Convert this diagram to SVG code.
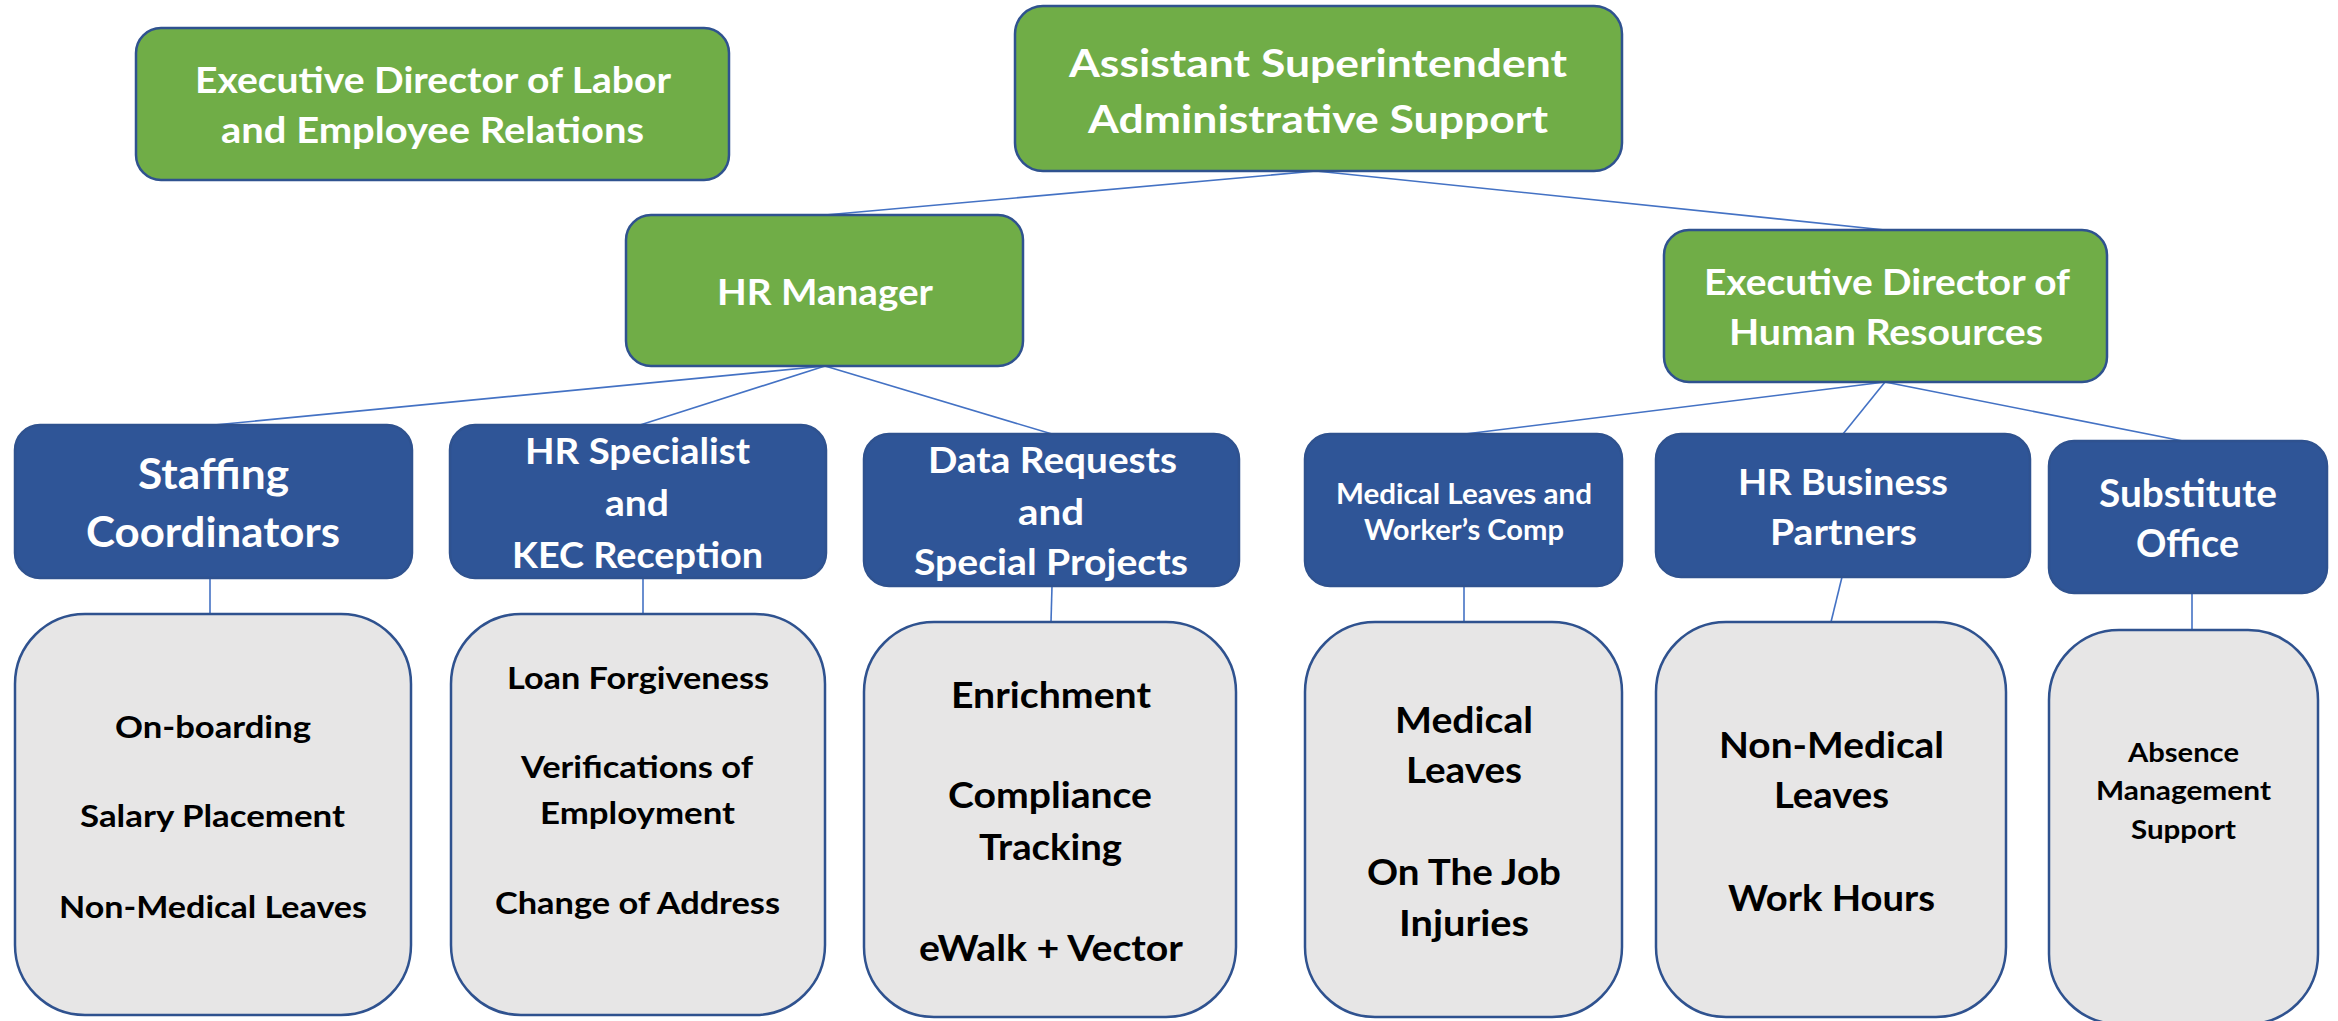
<svg xmlns="http://www.w3.org/2000/svg" width="2338" height="1021" viewBox="0 0 2338 1021">
<style>
.bg{fill:#ffffff}
.g{fill:#70AD47;stroke:#2F528F;stroke-width:2.5}
.b{fill:#2F5597;stroke:#2F528F;stroke-width:2.5}
.gr{fill:#E7E6E6;stroke:#2F528F;stroke-width:2.5}
.c{stroke:#4472C4;stroke-width:1.6;fill:none}
text{font-family:Lato,"Liberation Sans",sans-serif;font-weight:bold;text-anchor:middle}
.w{fill:#ffffff}
.k{fill:#000000}
</style>
<rect class="bg" x="0" y="0" width="2338" height="1021"/>
<g id="connectors">
<line class="c" x1="1316" y1="171" x2="825" y2="215"/>
<line class="c" x1="1316" y1="171" x2="1885" y2="230"/>
<line class="c" x1="825" y1="366" x2="214" y2="425"/>
<line class="c" x1="825" y1="366" x2="640" y2="425"/>
<line class="c" x1="825" y1="366" x2="1052" y2="434"/>
<line class="c" x1="1885" y1="382" x2="1465" y2="434"/>
<line class="c" x1="1885" y1="382" x2="1843" y2="434"/>
<line class="c" x1="1885" y1="382" x2="2183" y2="441"/>
<line class="c" x1="210" y1="578" x2="210" y2="614"/>
<line class="c" x1="643" y1="578" x2="643" y2="614"/>
<line class="c" x1="1052" y1="586" x2="1051" y2="622"/>
<line class="c" x1="1464" y1="586" x2="1464" y2="622"/>
<line class="c" x1="1842" y1="577" x2="1831" y2="622"/>
<line class="c" x1="2192" y1="593" x2="2192" y2="630"/>
</g>
<g id="exec-labor">
<rect class="g" x="136" y="28" width="593" height="152" rx="25"/>
<text class="w" font-size="37" x="433" y="93" textLength="476" lengthAdjust="spacingAndGlyphs">Executive Director of Labor</text>
<text class="w" font-size="37" x="432.5" y="143" textLength="423" lengthAdjust="spacingAndGlyphs">and Employee Relations</text>
</g>
<g id="asst-supt">
<rect class="g" x="1015" y="6" width="607" height="165" rx="28"/>
<text class="w" font-size="39" x="1318" y="77" textLength="498" lengthAdjust="spacingAndGlyphs">Assistant Superintendent</text>
<text class="w" font-size="39" x="1318" y="133" textLength="460" lengthAdjust="spacingAndGlyphs">Administrative Support</text>
</g>
<g id="hr-manager">
<rect class="g" x="626" y="215" width="397" height="151" rx="25"/>
<text class="w" font-size="36" x="825" y="305" textLength="216" lengthAdjust="spacingAndGlyphs">HR Manager</text>
</g>
<g id="exec-hr">
<rect class="g" x="1664" y="230" width="443" height="152" rx="25"/>
<text class="w" font-size="37" x="1887" y="295" textLength="366" lengthAdjust="spacingAndGlyphs">Executive Director of</text>
<text class="w" font-size="37" x="1886" y="345" textLength="314" lengthAdjust="spacingAndGlyphs">Human Resources</text>
</g>
<g id="staffing">
<rect class="b" x="15" y="425" width="397" height="153" rx="25"/>
<text class="w" font-size="42" x="213.5" y="489" textLength="151" lengthAdjust="spacingAndGlyphs">Staffing</text>
<text class="w" font-size="42" x="213" y="547" textLength="254" lengthAdjust="spacingAndGlyphs">Coordinators</text>
</g>
<g id="hr-specialist">
<rect class="b" x="450" y="425" width="376" height="153" rx="25"/>
<text class="w" font-size="36" x="637.5" y="464" textLength="225" lengthAdjust="spacingAndGlyphs">HR Specialist</text>
<text class="w" font-size="36" x="637" y="516" textLength="64" lengthAdjust="spacingAndGlyphs">and</text>
<text class="w" font-size="36" x="637.5" y="568" textLength="251" lengthAdjust="spacingAndGlyphs">KEC Reception</text>
</g>
<g id="data-requests">
<rect class="b" x="864" y="434" width="375" height="152" rx="25"/>
<text class="w" font-size="36" x="1052.5" y="473" textLength="249" lengthAdjust="spacingAndGlyphs">Data Requests</text>
<text class="w" font-size="36" x="1051" y="524.5" textLength="66" lengthAdjust="spacingAndGlyphs">and</text>
<text class="w" font-size="36" x="1051" y="575" textLength="274" lengthAdjust="spacingAndGlyphs">Special Projects</text>
</g>
<g id="medical-leaves">
<rect class="b" x="1305" y="434" width="317" height="152" rx="25"/>
<text class="w" font-size="28.5" x="1464" y="503.5" textLength="256" lengthAdjust="spacingAndGlyphs">Medical Leaves and</text>
<text class="w" font-size="28.5" x="1464" y="540" textLength="200" lengthAdjust="spacingAndGlyphs">Worker’s Comp</text>
</g>
<g id="hr-business-partners">
<rect class="b" x="1656" y="434" width="374" height="143" rx="25"/>
<text class="w" font-size="37" x="1843" y="495" textLength="210" lengthAdjust="spacingAndGlyphs">HR Business</text>
<text class="w" font-size="37" x="1843.5" y="545" textLength="147" lengthAdjust="spacingAndGlyphs">Partners</text>
</g>
<g id="substitute-office">
<rect class="b" x="2049" y="441" width="278" height="152" rx="25"/>
<text class="w" font-size="37.5" x="2188" y="507" textLength="178" lengthAdjust="spacingAndGlyphs">Substitute</text>
<text class="w" font-size="37.5" x="2187.5" y="557" textLength="103" lengthAdjust="spacingAndGlyphs">Office</text>
</g>
<g id="staffing-duties">
<rect class="gr" x="15" y="614" width="396" height="401" rx="70"/>
<text class="k" font-size="31" x="213" y="738" textLength="196" lengthAdjust="spacingAndGlyphs">On-boarding</text>
<text class="k" font-size="31" x="212.5" y="827" textLength="265" lengthAdjust="spacingAndGlyphs">Salary Placement</text>
<text class="k" font-size="31" x="213" y="918" textLength="308" lengthAdjust="spacingAndGlyphs">Non-Medical Leaves</text>
</g>
<g id="hr-specialist-duties">
<rect class="gr" x="451" y="614" width="374" height="401" rx="70"/>
<text class="k" font-size="30" x="638" y="689" textLength="262" lengthAdjust="spacingAndGlyphs">Loan Forgiveness</text>
<text class="k" font-size="30" x="637" y="778" textLength="232" lengthAdjust="spacingAndGlyphs">Verifications of</text>
<text class="k" font-size="30" x="637.5" y="824" textLength="195" lengthAdjust="spacingAndGlyphs">Employment</text>
<text class="k" font-size="30" x="637.5" y="914" textLength="285" lengthAdjust="spacingAndGlyphs">Change of Address</text>
</g>
<g id="data-duties">
<rect class="gr" x="864" y="622" width="372" height="395" rx="70"/>
<text class="k" font-size="36" x="1051" y="707.5" textLength="200" lengthAdjust="spacingAndGlyphs">Enrichment</text>
<text class="k" font-size="36" x="1050" y="808" textLength="204" lengthAdjust="spacingAndGlyphs">Compliance</text>
<text class="k" font-size="36" x="1050.5" y="860" textLength="143" lengthAdjust="spacingAndGlyphs">Tracking</text>
<text class="k" font-size="36" x="1051" y="961" textLength="264" lengthAdjust="spacingAndGlyphs">eWalk + Vector</text>
</g>
<g id="medical-duties">
<rect class="gr" x="1305" y="622" width="317" height="395" rx="70"/>
<text class="k" font-size="36" x="1464" y="733" textLength="138" lengthAdjust="spacingAndGlyphs">Medical</text>
<text class="k" font-size="36" x="1464" y="783" textLength="116" lengthAdjust="spacingAndGlyphs">Leaves</text>
<text class="k" font-size="36" x="1464" y="885" textLength="194" lengthAdjust="spacingAndGlyphs">On The Job</text>
<text class="k" font-size="36" x="1464" y="935.5" textLength="130" lengthAdjust="spacingAndGlyphs">Injuries</text>
</g>
<g id="hrbp-duties">
<rect class="gr" x="1656" y="622" width="350" height="395" rx="70"/>
<text class="k" font-size="36" x="1831.5" y="758" textLength="225" lengthAdjust="spacingAndGlyphs">Non-Medical</text>
<text class="k" font-size="36" x="1831.5" y="808" textLength="115" lengthAdjust="spacingAndGlyphs">Leaves</text>
<text class="k" font-size="36" x="1831.5" y="911" textLength="207" lengthAdjust="spacingAndGlyphs">Work Hours</text>
</g>
<g id="substitute-duties">
<rect class="gr" x="2049" y="630" width="269" height="394" rx="70"/>
<text class="k" font-size="26" x="2183.5" y="762" textLength="111" lengthAdjust="spacingAndGlyphs">Absence</text>
<text class="k" font-size="26" x="2183.5" y="800" textLength="175" lengthAdjust="spacingAndGlyphs">Management</text>
<text class="k" font-size="26" x="2183.5" y="839" textLength="105" lengthAdjust="spacingAndGlyphs">Support</text>
</g>
</svg>
